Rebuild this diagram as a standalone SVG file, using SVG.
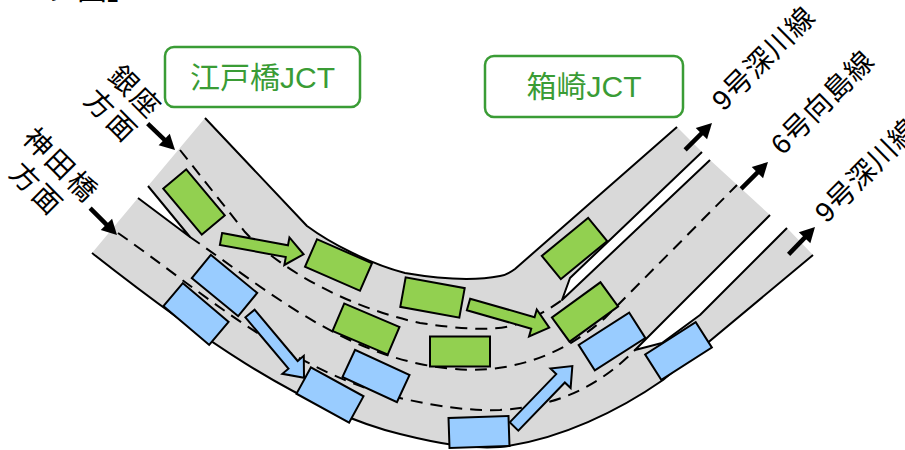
<svg xmlns="http://www.w3.org/2000/svg" xmlns:xlink="http://www.w3.org/1999/xlink" width="905" height="450" viewBox="0 0 905 450">
  <style>
    .road { fill: #d9d9d9; stroke: none; }
    .edge { fill: none; stroke: #000; stroke-width: 2; stroke-linejoin: round; }
    .lane { fill: none; stroke: #000; stroke-width: 2; stroke-dasharray: 12 8; }
    .green { fill: #92d050; stroke: #000; stroke-width: 2; }
    .blue { fill: #99ccff; stroke: #000; stroke-width: 2; }
    .flow { fill: #000; stroke: #000; }
    .jct-box { fill: #fff; stroke: #3a9c35; stroke-width: 2.5; }
    .jct { font-family: "Liberation Sans", "Noto Sans CJK JP", sans-serif; font-size: 30px; fill: #3a9c35; text-anchor: middle; }
    .dir { font-family: "Liberation Sans", "Noto Sans CJK JP", sans-serif; font-size: 28px; fill: #000; }
    .from { letter-spacing: 3px; text-anchor: middle; }
    .to { letter-spacing: 1px; }
  </style>
  <defs>
    <rect id="car" x="-30" y="-15" width="60" height="30"/>
    <path id="move" d="M0,-6 L67,-6 L67,-14 L84,0 L67,14 L67,6 L0,6 Z"/>
    <g id="flowArrow">
      <line x1="-38" y1="0" x2="-13" y2="0" stroke-width="4.5"/>
      <path d="M0,0 L-15,-8 L-15,8 Z" stroke="none"/>
    </g>
  </defs>

  <!-- caption fragment at the top edge -->
  <text x="47" y="-1" font-family="'Liberation Sans','Noto Sans CJK JP',sans-serif" font-size="30">ジ図」</text>

  <!-- road surface -->
  <g id="road">
    <path class="road" d="M205,118 L307,226 C330,243 370,264 405,273 C440,279 475,281 500,276 C506,275 511,272 515,269 L677,127 L702,152 L570,278 L562,300 L710,160 L770,215 L635,350 L662,343 L700,315 L787,228 L813,255 L663,380 C620,410 560,440 500,447 C470,449 440,444 400,434 C300,410 190,330 92,253 L138,198 L190,237 L148,186 Z"/>
  </g>

  <!-- lane markings and road edges -->
  <g id="connectors">
    <path class="lane" d="M180,150 L245,232 C280,270 350,308 420,323 C460,329 490,331 510,326 C530,321 548,310 562,300"/>
    <path class="lane" d="M190,237 C260,285 330,345 420,364 C455,371 480,371 505,367 C545,360 578,342 605,318 L737,185"/>
    <path class="lane" d="M118,233 C200,290 290,372 400,398 C440,407 470,411 500,410 C560,406 600,385 635,350"/>

    <path class="edge" d="M205,118 L307,226 C330,243 370,264 405,273 C440,279 475,281 500,276 C506,275 511,272 515,269 L677,127"/>
    <path class="edge" d="M148,186 L190,237 L138,198"/>
    <path class="edge" d="M702,152 L570,278 L562,300 L710,160"/>
    <path class="edge" d="M770,215 L635,350 L662,343 L700,315 L787,228"/>
    <path class="edge" d="M92,253 C190,330 300,410 400,434 C440,444 470,449 500,447 C560,440 620,410 663,380 L813,255"/>

    <!-- traffic direction arrows -->
    <use xlink:href="#flowArrow" class="flow" transform="translate(175,150) rotate(44)"/>
    <use xlink:href="#flowArrow" class="flow" transform="translate(117,235) rotate(45)"/>
    <use xlink:href="#flowArrow" class="flow" transform="translate(712,123) rotate(-45)"/>
    <use xlink:href="#flowArrow" class="flow" transform="translate(768,162) rotate(-45)"/>
    <use xlink:href="#flowArrow" class="flow" transform="translate(815,227) rotate(-46)"/>
  </g>

  <!-- vehicles from Ginza (green) -->
  <g id="cars-green">
    <use xlink:href="#car" class="green" transform="translate(194,202) rotate(50)"/>
    <use xlink:href="#car" class="green" transform="translate(338.5,265) rotate(23.6)"/>
    <use xlink:href="#car" class="green" transform="translate(432.5,297.5) rotate(10.3)"/>
    <use xlink:href="#car" class="green" transform="translate(366,329) rotate(23)"/>
    <use xlink:href="#car" class="green" transform="translate(460,351.5)"/>
    <use xlink:href="#car" class="green" transform="translate(574.5,248.5) rotate(-39.4)"/>
    <use xlink:href="#car" class="green" transform="translate(585,312) rotate(-36)"/>
  </g>

  <!-- vehicles from Kandabashi (blue) -->
  <g id="cars-blue">
    <use xlink:href="#car" class="blue" transform="translate(224.5,285.5) rotate(39.4)"/>
    <use xlink:href="#car" class="blue" transform="translate(196,314) rotate(40.3)"/>
    <use xlink:href="#car" class="blue" transform="translate(376,376) rotate(24.8)"/>
    <use xlink:href="#car" class="blue" transform="translate(330,395) rotate(28.7)"/>
    <use xlink:href="#car" class="blue" transform="translate(479,432) rotate(-1.9)"/>
    <use xlink:href="#car" class="blue" transform="translate(612,341.5) rotate(-32.6)"/>
    <use xlink:href="#car" class="blue" transform="translate(678.5,351) rotate(-32.6)"/>
  </g>

  <!-- lane-change arrows -->
  <g id="moves">
    <use xlink:href="#move" class="green" transform="translate(221,239) rotate(10.5)"/>
    <use xlink:href="#move" class="green" transform="translate(468.5,304.5) rotate(16)"/>
    <use xlink:href="#move" class="blue" transform="translate(250,313.5) rotate(50)"/>
    <use xlink:href="#move" class="blue" transform="translate(514,426.5) rotate(-46)"/>
  </g>

  <!-- junction labels -->
  <g id="jct-edobashi">
    <rect class="jct-box" x="165" y="47" width="195" height="60" rx="9"/>
    <text class="jct" x="262.5" y="88">江戸橋JCT</text>
  </g>
  <g id="jct-hakozaki">
    <rect class="jct-box" x="485" y="56" width="198" height="61" rx="9"/>
    <text class="jct" x="584" y="97">箱崎JCT</text>
  </g>

  <!-- origin labels -->
  <g id="from-ginza">
    <text class="dir from" transform="translate(127.5,98.3) rotate(45)"><tspan x="1.5" y="0">銀座</tspan><tspan x="1.5" y="34">方面</tspan></text>
  </g>
  <g id="from-kandabashi">
    <text class="dir from" transform="translate(53,171.5) rotate(45)"><tspan x="1.5" y="0">神田橋</tspan><tspan x="1.5" y="34">方面</tspan></text>
  </g>

  <!-- destination labels -->
  <g id="to-fukagawa-1">
    <text class="dir to" transform="translate(723.6,112.2) rotate(-45)">9号深川線</text>
  </g>
  <g id="to-mukojima">
    <text class="dir to" transform="translate(782.6,156.2) rotate(-45)">6号向島線</text>
  </g>
  <g id="to-fukagawa-2">
    <text class="dir to" transform="translate(826.6,224.2) rotate(-45)">9号深川線</text>
  </g>
</svg>
